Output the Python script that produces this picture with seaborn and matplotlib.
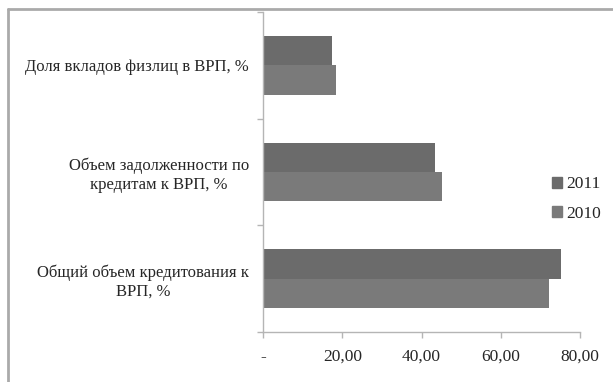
import seaborn as sns
import matplotlib.pyplot as plt
import pandas as pd
from matplotlib.lines import Line2D
from matplotlib.ticker import FuncFormatter, FixedLocator

# Data
categories = ['Доля вкладов физлиц в ВРП, %',
              'Объем задолженности по\nкредитам к ВРП, %',
              'Общий объем кредитования к\nВРП, %']
values_2011 = [17.4, 43.4, 75.1]
values_2010 = [18.3, 45.1, 72.2]
years = ['2011', '2010']
xticks = [0, 20, 40, 60, 80]

df = pd.DataFrame({
    'category': categories * 2,
    'value': values_2011 + values_2010,
    'year': ['2011'] * 3 + ['2010'] * 3,
})

sns.set_style('white')
plt.rcParams['font.family'] = ['Liberation Serif', 'DejaVu Serif']
fs = 12.5

fig = plt.figure(figsize=(6.13, 3.82), dpi=100)
ax = fig.add_axes([263 / 613, 1 - 332 / 382, (580 - 263) / 613, (332 - 12) / 382])

sns.barplot(data=df, y='category', x='value', hue='year', hue_order=years,
            order=categories, orient='h', width=0.55,
            palette={'2011': '#6b6b6b', '2010': '#7a7a7a'},
            saturation=1, linewidth=0, ax=ax)

ax.set_xlim(0, 80)
ax.set_ylim(2.5, -0.5)
ax.set_xlabel('')
ax.set_ylabel('')
ax.set_xticks(xticks)
ax.xaxis.set_major_formatter(FuncFormatter(lambda v, p: '-' if v == 0 else f'{v:.2f}'.replace('.', ',')))

# category boundary ticks like Excel
ax.yaxis.set_minor_locator(FixedLocator([-0.5, 0.5, 1.5, 2.5]))
ax.tick_params(axis='y', which='major', left=False, length=0, pad=10, labelsize=12)
ax.tick_params(axis='y', which='minor', left=True, length=4, color='#b5b5b5', width=1)
ax.tick_params(axis='x', bottom=True, length=4, color='#b5b5b5', width=1, labelsize=fs, pad=8, direction='out')
for lbl in ax.get_yticklabels():
    lbl.set_multialignment('center')

for s in ['top', 'right']:
    ax.spines[s].set_visible(False)
for s in ['left', 'bottom']:
    ax.spines[s].set_color('#b5b5b5')
    ax.spines[s].set_linewidth(1)

handles = [plt.Rectangle((0, 0), 1, 1, color=c) for c in ['#6b6b6b', '#7a7a7a']]
ax.legend(handles, years, loc='center left', bbox_to_anchor=(552 / 613, 1 - 199 / 382),
          bbox_transform=fig.transFigure, frameon=False, fontsize=fs,
          handlelength=0.55, handleheight=0.55, handletextpad=0.25, labelspacing=0.75,
          borderpad=0, borderaxespad=0)

# outer chart border (top and left only visible)
fig.add_artist(Line2D([8 / 613, 1], [1 - 9 / 382, 1 - 9 / 382], color='#aaaaaa', lw=2, transform=fig.transFigure))
fig.add_artist(Line2D([8 / 613, 8 / 613], [0, 1 - 9 / 382], color='#aaaaaa', lw=2, transform=fig.transFigure))

fig.savefig('out.png', dpi=100)
